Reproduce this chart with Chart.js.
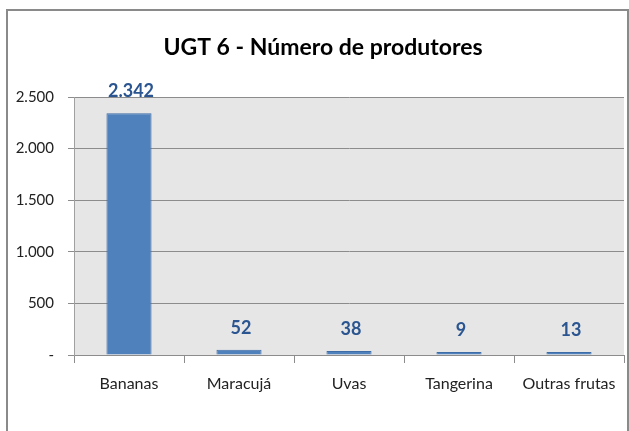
<!DOCTYPE html>
<html>
<head>
<meta charset="utf-8">
<script src="https://cdn.jsdelivr.net/npm/chart.js@4.4.1/dist/chart.umd.min.js"></script>
<style>
  html, body { margin: 0; padding: 0; background: #fff; }
  #wrap { position: relative; width: 629px; height: 431px; overflow: hidden; }
  #frame {
    position: absolute; left: 6px; top: 9px; width: 619px; height: 440px;
    border: 2px solid #8a8a8a; border-bottom: none;
  }
  #myChart { position: absolute; left: 0; top: 0; }
</style>
</head>
<body>
<div id="wrap">
  <div id="frame"></div>
  <canvas id="myChart" width="629" height="431"></canvas>
</div>
<script>
// dados do gráfico
const titulo = "UGT 6 - Número de produtores";
const categorias = ["Bananas", "Maracujá", "Uvas", "Tangerina", "Outras frutas"];
const produtores = [2342, 52, 38, 9, 13];
const yTicks = [0, 500, 1000, 1500, 2000, 2500];

const fonte = "Lato, 'Liberation Sans', sans-serif";

// separador de milhar com ponto, zero vira '-'
function fmt(v) {
  if (v === 0) return "-";
  return String(v).replace(/\B(?=(\d{3})+(?!\d))/g, ".");
}

// fundo cinza da área do gráfico
const fundo = {
  id: "fundo",
  beforeDraw(chart) {
    const a = chart.chartArea;
    const ctx = chart.ctx;
    ctx.save();
    ctx.fillStyle = "#e6e6e6";
    ctx.fillRect(a.left, a.top, a.right - a.left, a.bottom - a.top);
    ctx.restore();
  }
};

// título e rótulos de valor acima das barras
const rotulos = {
  id: "rotulos",
  afterDatasetsDraw(chart) {
    const ctx = chart.ctx;
    const meta = chart.getDatasetMeta(0);
    ctx.save();
    ctx.textAlign = "center";
    ctx.textBaseline = "alphabetic";

    // título um pouco à direita do centro, como no original
    ctx.font = "bold 23px " + fonte;
    ctx.fillStyle = "#000";
    ctx.fillText(titulo, 323, 55);

    ctx.font = "bold 18px " + fonte;
    ctx.fillStyle = "#2a5590";
    meta.data.forEach(function (bar, i) {
      ctx.fillText(fmt(produtores[i]), bar.x + 2, bar.y - 16);
    });
    ctx.restore();
  }
};

const ctx = document.getElementById("myChart");

new Chart(ctx, {
  type: "bar",
  data: {
    labels: categorias,
    datasets: [
      {
        data: produtores,
        backgroundColor: "#4f81bd",
        borderColor: "#3d6ca6",
        borderWidth: 1,
        minBarLength: 3,
        categoryPercentage: 1,
        barPercentage: 0.41
      }
    ]
  },
  options: {
    responsive: false,
    animation: false,
    layout: { padding: { left: 0, right: 5, top: 97, bottom: 0 } },
    plugins: {
      legend: { display: false },
      tooltip: { enabled: false },
      title: { display: false }
    },
    scales: {
      x: {
        offset: true,
        grid: {
          offset: true,
          drawOnChartArea: false,
          drawTicks: true,
          tickLength: 8,
          color: "#8c8c8c"
        },
        border: { color: "#8c8c8c" },
        ticks: {
          color: "#222",
          font: { family: fonte, size: 16 },
          padding: 11,
          maxRotation: 0
        },
        afterFit(scale) { scale.height = 76; }
      },
      y: {
        min: 0,
        max: 2500,
        afterBuildTicks(scale) {
          scale.ticks = yTicks.map(function (v) { return { value: v }; });
        },
        grid: {
          color: "#8c8c8c",
          tickLength: 6
        },
        border: { color: "#a0a0a0" },
        ticks: {
          color: "#222",
          font: { family: fonte, size: 15 },
          padding: 14,
          callback: function (v) { return fmt(v); }
        },
        afterFit(scale) { scale.width = 74; }
      }
    }
  },
  plugins: [fundo, rotulos]
});
</script>
</body>
</html>
